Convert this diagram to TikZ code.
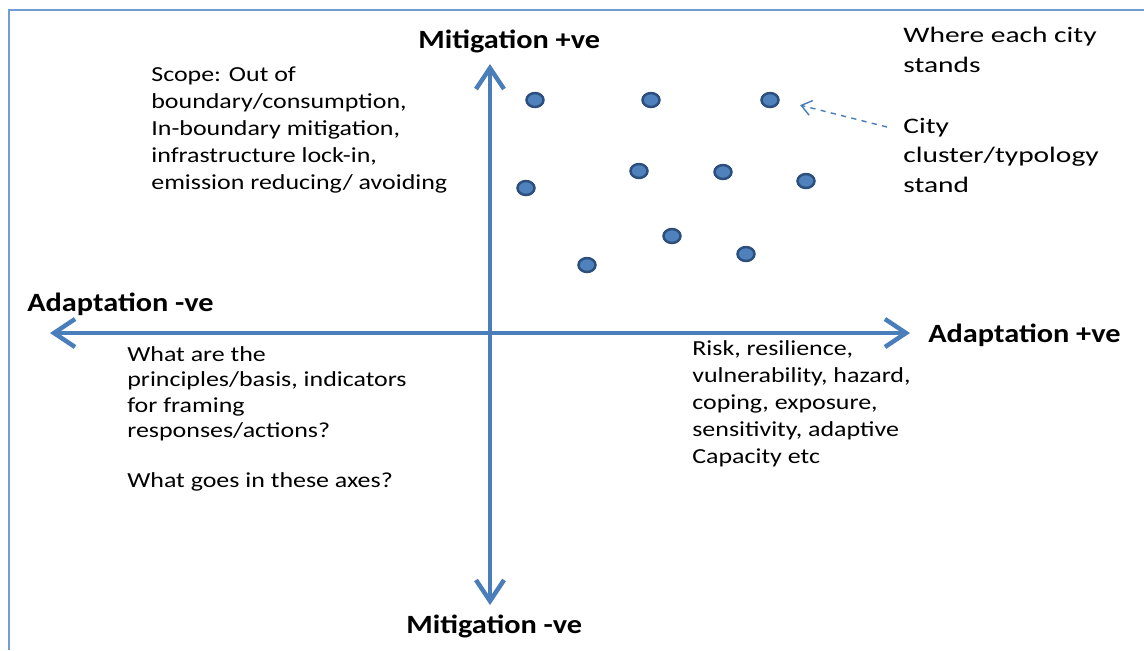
\documentclass[tikz,border=0pt]{standalone}
\usepackage{fontspec}
\setmainfont{Carlito}
\newfontfamily\notefont{Carlito}[FakeStretch=1.21]
\newfontfamily\widenotefont{Carlito}[FakeStretch=1.33]
\newfontfamily\labelfont{Carlito}[FakeStretch=1.15]
\usepackage{tikz}
\usetikzlibrary{arrows.meta,shapes.geometric}
\definecolor{axisblue}{HTML}{4A7EBB}
\definecolor{frameblue}{HTML}{6F9DD4}
\definecolor{dotfill}{HTML}{4F81BD}
\definecolor{dotline}{HTML}{2C4F7E}

\begin{document}
\begin{tikzpicture}[
  x=0.02cm, y=-0.02cm,
  axis/.style={
    {Straight Barb[length=0.42cm,width=0.56cm]}-{Straight Barb[length=0.42cm,width=0.56cm]},
    line width=0.09cm,
    draw=axisblue
  },
  pointer/.style={
    -{Straight Barb[length=0.2cm,width=0.3cm]},
    dashed,
    line width=0.8pt,
    draw=axisblue
  },
  label/.style={
    anchor=base west,
    inner sep=0pt,
    font=\labelfont\fontsize{15}{18}\selectfont\bfseries
  },
  note/.style={
    anchor=base west,
    inner sep=0pt,
    align=left,
    font=\notefont\fontsize{12.2}{15.3}\selectfont
  },
  sidenote/.style={
    note,
    font=\widenotefont\fontsize{12.6}{16.6}\selectfont
  },
  city/.style={
    ellipse,
    draw=dotline,
    fill=dotfill,
    line width=1.4pt,
    minimum width=0.34cm,
    minimum height=0.28cm,
    inner sep=0pt
  }
]
\useasboundingbox (0,0) rectangle (1144,650);

% outer frame, cut at the right and bottom
\draw[frameblue, line width=1.6pt] (9,650) -- (9,10) -- (1144,10);

% axis ends
\coordinate (mtop) at (490,64);
\coordinate (mbot) at (490,605);
\coordinate (aleft) at (50,333);
\coordinate (aright) at (910,333);

\draw[axis] (mbot) -- (mtop);
\draw[axis] (aleft) -- (aright);

% axis labels
\node[label] (mitpos) at (418,48) {Mitigation +ve};
\node[label] (mitneg) at (406,633) {Mitigation -ve};
\node[label] (adneg) at (27,311) {Adaptation -ve};
\node[label] (adpos) at (928,342) {Adaptation +ve};

% notes in the quadrants (placed at the baseline of their last line)
\node[note] (scope) at (151,189) {Scope: Out of\\boundary/consumption,\\In-boundary mitigation,\\infrastructure lock-in,\\emission reducing/ avoiding};
\node[note, font=\notefont\fontsize{12.2}{14.5}\selectfont] (basis) at (127,487) {What are the\\principles/basis, indicators\\for framing\\responses/actions?\\[13.5pt]What goes in these axes?};
\node[note] (risk) at (692,463) {Risk, resilience,\\vulnerability, hazard,\\coping, exposure,\\sensitivity, adaptive\\Capacity etc};
\node[sidenote] (where) at (903,72) {Where each city\\stands};
\node[sidenote] (cluster) at (903,192) {City\\cluster/typology\\stand};

% cities
\node[city] (c1) at (535,100) {};
\node[city] (c2) at (651,100) {};
\node[city] (c3) at (770,100) {};
\node[city] (c4) at (526,188) {};
\node[city] (c5) at (639,171) {};
\node[city] (c6) at (723,172) {};
\node[city] (c7) at (806,181) {};
\node[city] (c8) at (672,236) {};
\node[city] (c9) at (746,254) {};
\node[city] (c10) at (587,265) {};

\coordinate (ptail) at (887,127);
\draw[pointer, shorten >=0.42cm] (ptail) -- (c3.east);
\end{tikzpicture}
\end{document}
